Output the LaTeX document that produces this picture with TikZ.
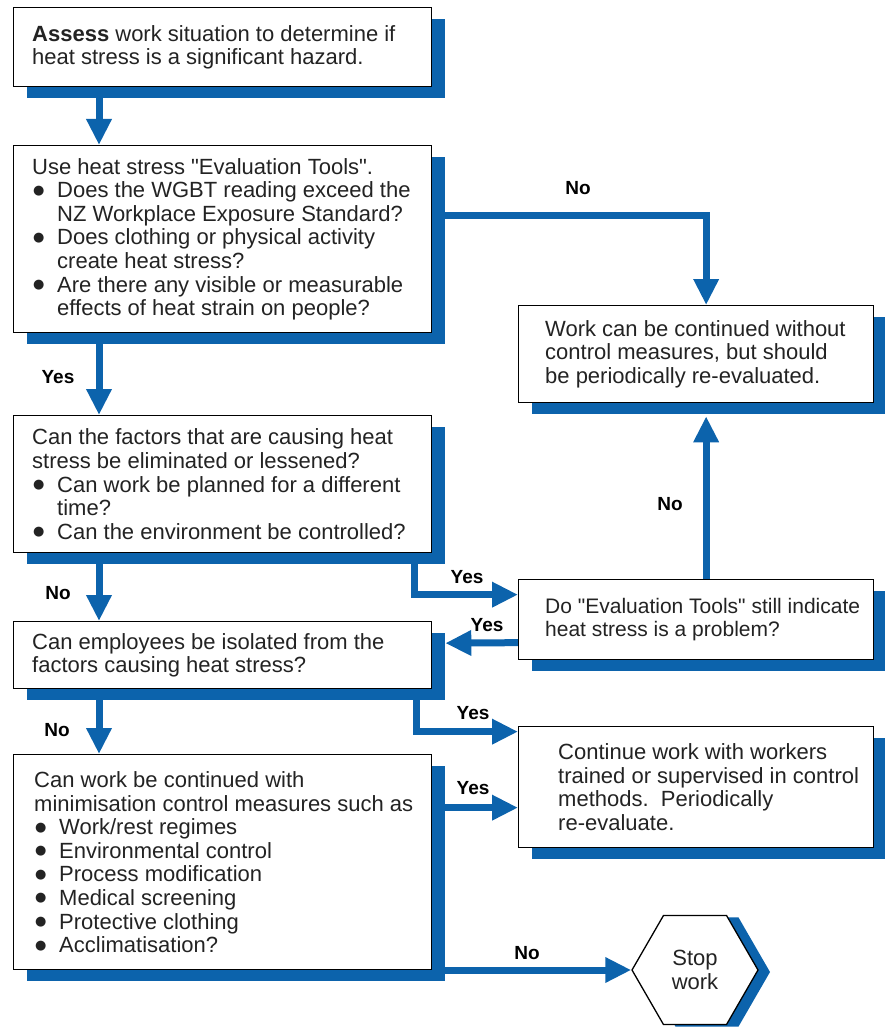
\documentclass[tikz,border=0pt]{standalone}
\usepackage{fontspec}
\setmainfont{Liberation Sans}
\newfontfamily\symfont{DejaVu Sans}
\usetikzlibrary{arrows.meta,shapes.geometric,shadows,calc}
\definecolor{fblue}{RGB}{12,99,172}
\definecolor{ftext}{RGB}{35,35,35}
\pgfdeclarelayer{bg}
\pgfsetlayers{bg,main}
\newcommand{\bl}{\makebox[25pt][l]{\hspace{1pt}\raisebox{3.5pt}{\symfont\fontsize{13}{13}\selectfont ●}}}
\newcommand{\ind}{\hspace*{25pt}}
\newcommand{\qq}{\textquotedbl{}}
\begin{document}
\begin{tikzpicture}[x=1pt,y=-1pt,
 box/.style={draw=black, line width=1.3pt, fill=white, inner sep=0pt, anchor=north west,
   drop shadow={shadow xshift=13pt, shadow yshift=-11pt, fill=fblue, opacity=1}},
 txt/.style={inner sep=0pt, align=left, anchor=west, text=ftext, font=\fontsize{22}{23.6}\selectfont},
 lab/.style={font=\fontsize{19}{21}\selectfont\bfseries, inner sep=0pt},
 conn/.style={draw=fblue, line width=7pt, -{Triangle[length=26pt,width=24pt]}},
 hexa/.style={regular polygon, regular polygon sides=6, minimum size=126pt, inner sep=0pt,
   draw=black, line width=1.3pt, fill=white, align=center, text=ftext,
   font=\fontsize{22}{24}\selectfont,
   drop shadow={shadow xshift=12pt, shadow yshift=-2pt, fill=fblue, opacity=1}},
]
\useasboundingbox (0,0) rectangle (885,1030);
\coordinate (colL) at (99,0);

% boxes
\node[box, minimum width=418pt, minimum height=79pt] (b1) at (13,7) {};
\node[txt] (t1) at ([xshift=19pt]b1.west) {\textbf{Assess} work situation to determine if\\heat stress is a significant hazard.};

\node[box, minimum width=418pt, minimum height=187pt] (b2) at (13,145) {};
\node[txt] (t2) at ([xshift=19pt]b2.west) {Use heat stress \qq Evaluation Tools\qq .\\
\bl Does the WGBT reading exceed the\\
\ind NZ Workplace Exposure Standard?\\
\bl Does clothing or physical activity\\
\ind create heat stress?\\
\bl Are there any visible or measurable\\
\ind effects of heat strain on people?};

\node[box, minimum width=355pt, minimum height=97pt] (b3) at (518,305) {};
\node[txt] (t3) at ([xshift=27pt]b3.west) {Work can be continued without\\control measures, but should\\be periodically re-evaluated.};

\node[box, minimum width=418pt, minimum height=137pt] (b4) at (13,415) {};
\node[txt] (t4) at ([xshift=19pt]b4.west) {Can the factors that are causing heat\\
stress be eliminated or lessened?\\
\bl Can work be planned for a different\\
\ind time?\\
\bl Can the environment be controlled?};

\node[box, minimum width=355pt, minimum height=80pt] (b5) at (518,579) {};
\node[txt, font=\fontsize{21}{23.6}\selectfont] (t5) at ([xshift=27pt]b5.west) {Do \qq Evaluation Tools\qq{} still indicate\\heat stress is a problem?};

\node[box, minimum width=418pt, minimum height=67pt] (b6) at (13,621) {};
\node[txt] (t6) at ([xshift=19pt]b6.west) {Can employees be isolated from the\\factors causing heat stress?};

\node[box, minimum width=355pt, minimum height=121pt] (b7) at (518,726) {};
\node[txt] (t7) at ([xshift=40pt]b7.west) {Continue work with workers\\trained or supervised in control\\methods.\ \ Periodically\\re-evaluate.};

\node[box, minimum width=418pt, minimum height=215pt] (b8) at (13,754) {};
\node[txt] (t8) at ([xshift=21pt]b8.west) {Can work be continued with\\
minimisation control measures such as\\
\bl Work/rest regimes\\
\bl Environmental control\\
\bl Process modification\\
\bl Medical screening\\
\bl Protective clothing\\
\bl Acclimatisation?};

\node[hexa] (hex) at (695,970) {Stop\\work};

% connectors
\begin{pgfonlayer}{bg}
\draw[conn] (b1.south -| colL) -- (b2.north -| colL);
\draw[conn] ([yshift=-70pt]b2.north east) -| ([xshift=10pt]b3.north);
\draw[conn] (b2.south -| colL) -- (b4.north -| colL);
\draw[conn] (b4.south -| colL) -- (b6.north -| colL);
\draw[conn] (b6.south -| colL) -- (b8.north -| colL);
\draw[conn] ([xshift=-18pt]b4.south east) |- ([yshift=25pt]b5.west);
\draw[conn] ([yshift=-23pt]b5.west) -- ([xshift=13pt,yshift=12pt]b6.east);
\draw[conn] ([xshift=10pt]b5.north) -- ([xshift=10pt,yshift=-13pt]b3.south);
\draw[conn] ([xshift=-16pt]b6.south east) |- ([yshift=55.5pt]b7.west);
\draw[conn] ([yshift=54.5pt]b8.east) -- ([yshift=-20.5pt]b7.west);
\draw[conn] (b8.east |- hex.west) -- (hex.west);
\end{pgfonlayer}

% labels
\node[lab] (l1) at (578,188) {No};
\node[lab] (l2) at (58,377) {Yes};
\node[lab] (l3) at (467,577) {Yes};
\node[lab] (l4) at (58,593) {No};
\node[lab] (l5) at (487,625) {Yes};
\node[lab] (l6) at (670,504) {No};
\node[lab] (l7) at (473,713) {Yes};
\node[lab] (l8) at (57,730) {No};
\node[lab] (l9) at (473,788) {Yes};
\node[lab] (l10) at (527,953) {No};
\end{tikzpicture}
\end{document}
